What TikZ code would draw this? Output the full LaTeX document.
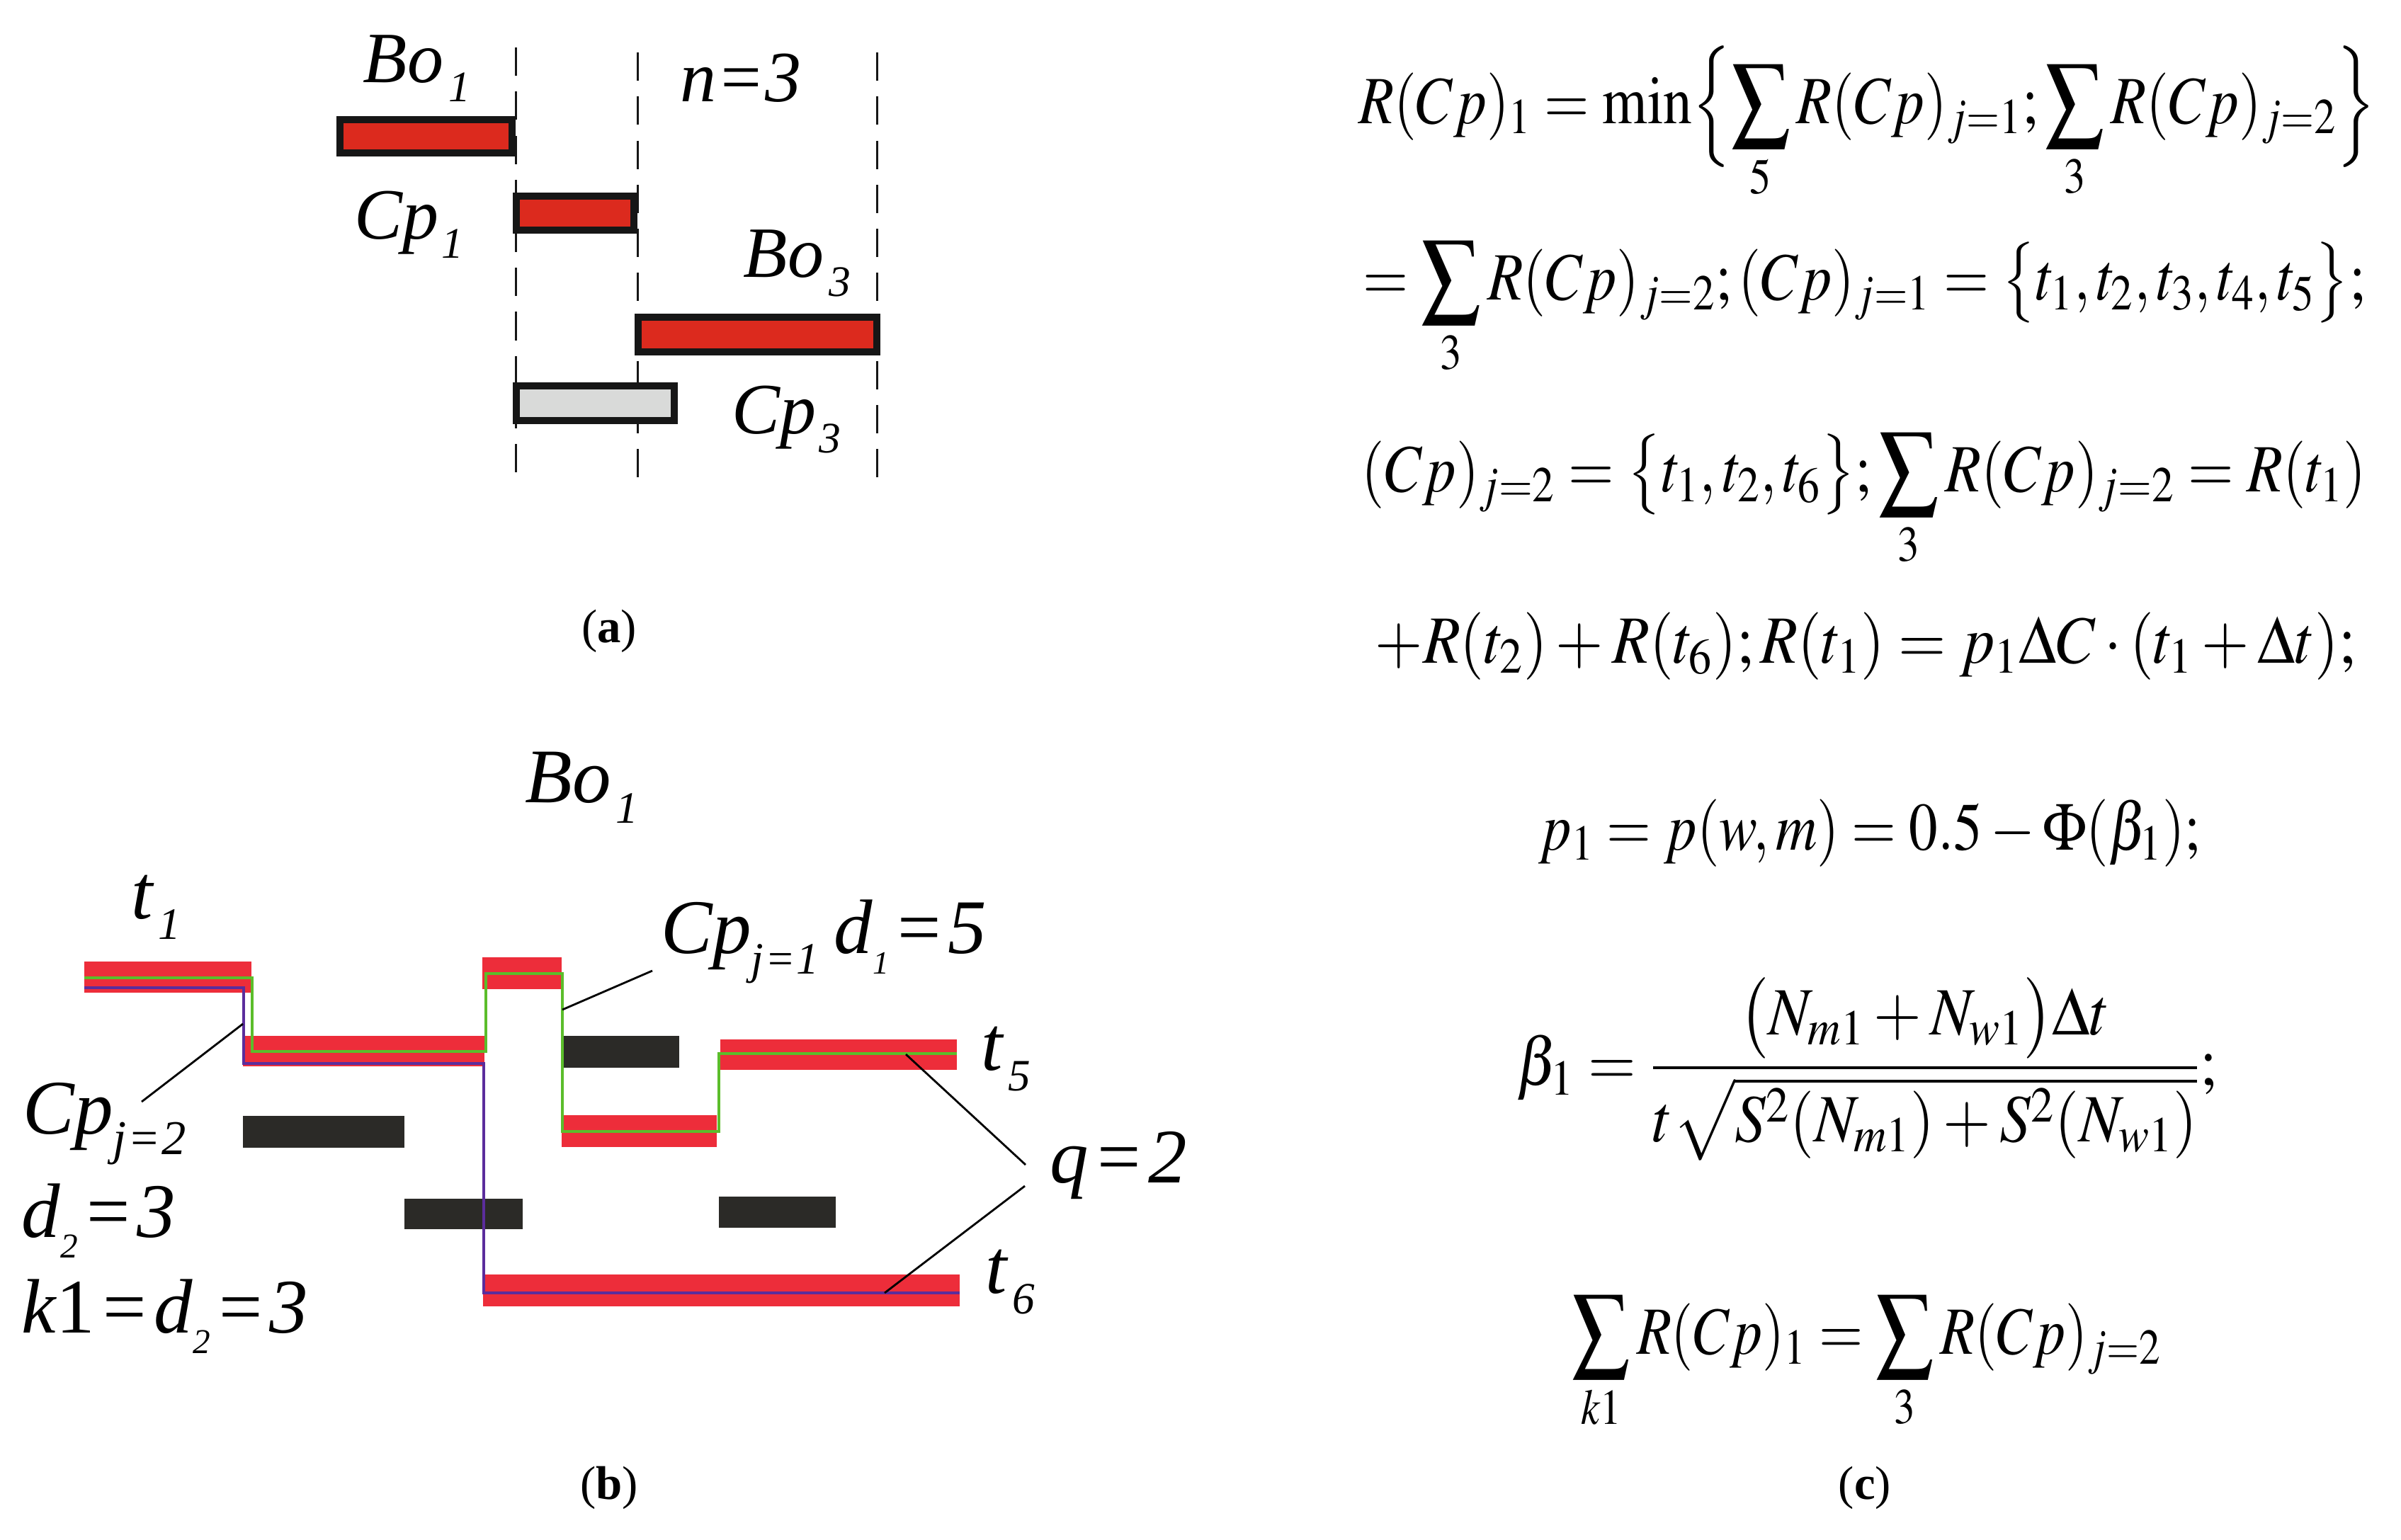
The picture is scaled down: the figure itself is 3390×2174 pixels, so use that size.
\documentclass[tikz,border=0pt]{standalone}
\usepackage{amsmath}
\usepackage{mathptmx}
\usepackage{fontspec}
\setmainfont{Liberation Serif}
\definecolor{reda}{RGB}{220,42,30}
\definecolor{redb}{RGB}{237,45,58}
\definecolor{barblk}{RGB}{43,42,39}
\definecolor{grn}{RGB}{91,189,43}
\definecolor{purp}{RGB}{91,45,156}
\definecolor{grayfill}{RGB}{217,218,217}
\definecolor{edge}{RGB}{22,22,22}
\newcommand{\fA}{\fontsize{29}{34}\selectfont\itshape}
\newcommand{\fB}{\fontsize{31}{36}\selectfont\itshape}
\newcommand{\fC}{\fontsize{23}{28}\selectfont}
\newcommand{\fCap}{\fontsize{19}{23}\selectfont}
\newcommand{\sbx}[2]{\raisebox{-0.27em}{\fontsize{#1}{#1}\selectfont #2}}
\newcommand{\eqs}{\kern1.5pt=\kern1.5pt}
\newcommand{\eqt}{\kern0.5pt=\kern0.5pt}
\newcommand{\eqline}[2]{\scalebox{#1}[1.18]{$\displaystyle #2$}}
\begin{document}
\begin{tikzpicture}[x=0.01cm,y=-0.01cm,
  lblA/.style={inner sep=0pt, anchor=base west, font=\fA},
  lblB/.style={inner sep=0pt, anchor=base west, font=\fB},
  eq/.style={inner sep=0pt, anchor=base, font=\fC},
  capt/.style={inner sep=0pt, anchor=center, font=\fCap},
  abar/.style={draw=edge, line width=2.8pt, fill=reda},
  gbar/.style={draw=edge, line width=2.8pt, fill=grayfill},
  vdash/.style={draw=edge, line width=0.85pt, dash pattern=on 11.4pt off 6.3pt},
  rbar/.style={fill=redb},
  kbar/.style={fill=barblk},
  gline/.style={draw=grn, line width=1.2pt},
  pline/.style={draw=purp, line width=1.2pt},
  leader/.style={draw=black, line width=0.8pt}]
\useasboundingbox (0,0) rectangle (3390,2174);
% ---------------- (a)
\draw[vdash] (728,67) -- (728,670);
\draw[vdash] (900,74) -- (900,683);
\draw[vdash] (1238,74) -- (1238,674);
\path[abar] (480,169) rectangle (723,216);
\path[abar] (729,277) rectangle (895,325);
\path[abar] (901,448) rectangle (1238,497);
\path[gbar] (729,545) rectangle (952,594);
\node[lblA] (bo1) at (512,116) {Bo\kern2pt\sbx{17.5}{1}};
\node[lblA] (n3) at (960,143) {n=3};
\node[lblA] (cp1) at (500,337) {Cp\kern1pt\sbx{17.5}{1}};
\node[lblA] (bo3) at (1049,391) {Bo\kern2pt\sbx{17.5}{3}};
\node[lblA] (cp3) at (1033,612) {Cp\kern1pt\sbx{17.5}{3}};
\node[capt] (capa) at (860,891) {(\textbf{a})};
% ---------------- (b)
\path[rbar] (119,1358) rectangle (355,1402);
\path[rbar] (343,1463) rectangle (684,1506);
\path[rbar] (681,1352) rectangle (793,1397);
\path[rbar] (793,1575) rectangle (1012,1620);
\path[rbar] (1017,1468) rectangle (1351,1511);
\path[rbar] (682,1800) rectangle (1355,1845);
\path[kbar] (343,1576) rectangle (571,1621);
\path[kbar] (571,1693) rectangle (738,1736);
\path[kbar] (794,1463) rectangle (959,1508);
\path[kbar] (1015,1690) rectangle (1180,1734);
\draw[gline] (119,1381) -- (356,1381) -- (356,1485) -- (686,1485) -- (686,1375)
  -- (794,1375) -- (794,1598) -- (1015,1598) -- (1015,1488) -- (1351,1488);
\draw[pline] (119,1395) -- (344,1395) -- (344,1502) -- (683,1502) -- (683,1826) -- (1355,1826);
\node[lblB] (bo1b) at (741,1133) {Bo\kern2pt\sbx{18}{1}};
\node[lblB] (t1) at (185,1297) {t\kern2pt\sbx{18}{1}};
\node[lblB] (cpj2) at (32,1601) {Cp\sbx{19.5}{j\eqt 2}};
\node[lblB] (d2) at (30,1747) {d\sbx{14}{2}\eqs 3};
\node[lblB] (k1) at (30,1882) {k{\upshape 1}\eqs d\sbx{14}{2}\eqs 3};
\node[lblB] (cpj1) at (933,1346) {Cp\sbx{18}{j\eqt 1}\kern6pt d\sbx{13}{1}\eqs 5};
\node[lblB] (t5) at (1385,1511) {t\kern2pt\sbx{18}{5}};
\node[lblB] (q2) at (1482,1670) {q\eqs 2};
\node[lblB] (t6) at (1391,1826) {t\kern2pt\sbx{18}{6}};
\coordinate (la1) at (343,1446); \coordinate (la2) at (200,1556);
\coordinate (lb1) at (794,1426); \coordinate (lb2) at (921,1371);
\coordinate (lc1) at (1279,1489); \coordinate (lc2) at (1448,1645);
\coordinate (ld1) at (1249,1826); \coordinate (ld2) at (1447,1675);
\draw[leader] (la1) -- (la2);
\draw[leader] (lb1) -- (lb2);
\draw[leader] (lc1) -- (lc2);
\draw[leader] (ld1) -- (ld2);
\node[capt] (capb) at (860,2101) {(\textbf{b})};
% ---------------- (c)
\node[eq] (e1) at (2636,174) {\eqline{1.01}{R(Cp)_1=\min\Bigl\{\sum_5 R(Cp)_{j=1};\sum_3 R(Cp)_{j=2}\Bigr\}}};
\node[eq] (e2) at (2632,423) {\eqline{1.02}{=\sum_3 R(Cp)_{j=2};(Cp)_{j=1}=\big\{t_1,t_2,t_3,t_4,t_5\big\};}};
\node[eq] (e3) at (2632,694) {\eqline{1.027}{(Cp)_{j=2}=\big\{t_1,t_2,t_6\big\};\sum_3 R(Cp)_{j=2}=R(t_1)}};
\node[eq] (e4) at (2634,936) {\eqline{1.07}{+R(t_2)+R(t_6);R(t_1)=p_1\Delta C\cdot(t_1+\Delta t);}};
\node[eq] (e5) at (2640,1200) {\eqline{1.0}{p_1=p(w,m)=0.5-\Phi(\beta_1);}};
\node[eq] (e6) at (2636,1532) {\eqline{1.076}{\beta_1=\frac{\bigl(N_{m1}+N_{w1}\bigr)\Delta t}{t\sqrt{S^2(N_{m1})+S^2(N_{w1})}};}};
\node[eq] (e7) at (2636,1912) {\eqline{0.99}{\sum_{k1}R(Cp)_1=\sum_3 R(Cp)_{j=2}}};
\node[capt] (capc) at (2633,2101) {(\textbf{c})};
\end{tikzpicture}
\end{document}
